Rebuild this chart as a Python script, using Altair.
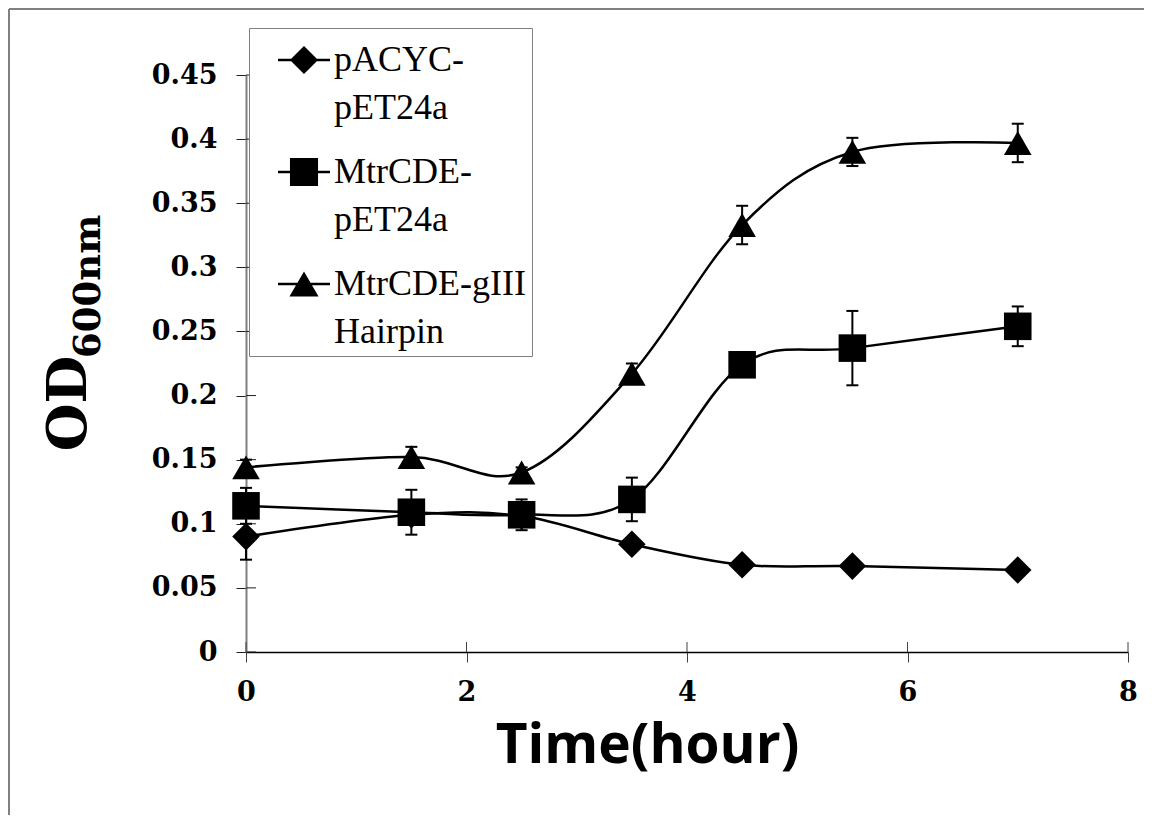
import json
import altair as alt
import pandas as pd

# ---------------- data ----------------
series_names = ["pACYC-pET24a", "MtrCDE-pET24a", "MtrCDE-gIII Hairpin"]
legend_lines = [["pACYC-", "pET24a"], ["MtrCDE-", "pET24a"], ["MtrCDE-gIII", "Hairpin"]]
time_h = [0, 1.5, 2.5, 3.5, 4.5, 5.5, 7]

od_pacyc = [0.090, 0.107, 0.106, 0.084, 0.068, 0.067, 0.064]
err_pacyc = [0.018, 0.004, 0.004, 0.004, 0.003, 0.003, 0.003]

od_mtr = [0.114, 0.109, 0.107, 0.119, 0.224, 0.237, 0.254]
err_mtr = [0.014, 0.0175, 0.012, 0.017, 0.008, 0.029, 0.0155]

od_hairpin = [0.144, 0.152, 0.140, 0.217, 0.333, 0.390, 0.397]
err_hairpin = [0.006, 0.008, 0.004, 0.008, 0.015, 0.011, 0.015]

x_ticks = [0, 2, 4, 6, 8]
y_ticks = [0, 0.05, 0.1, 0.15, 0.2, 0.25, 0.3, 0.35, 0.4, 0.45]

y_title_main = "OD"
y_title_sub = "600nm"
x_title = "Time(hour)"

# ---------------- tables ----------------
rows = []
for name, ods, errs in zip(series_names, [od_pacyc, od_mtr, od_hairpin],
                           [err_pacyc, err_mtr, err_hairpin]):
    for t, v, e in zip(time_h, ods, errs):
        rows.append({"series": name, "t": t, "od": v, "lo": v - e, "hi": v + e})
df = pd.DataFrame(rows)

W, H = 882, 577
x_scale = alt.Scale(domain=[0, 8], nice=False, zero=False)
y_scale = alt.Scale(domain=[0, 0.45], nice=False)

x_axis = alt.Axis(
    values=x_ticks, format="~g", title=x_title, grid=False,
    titleFont="Open Sans", titleFontWeight="bold", titleFontSize=55, titleColor="black",
    titleX=401, titleY=110, titleAlign="center", titleBaseline="alphabetic",
    labelFont="DejaVu Serif", labelFontWeight="bold", labelFontSize=27, labelColor="black",
    labelPadding=17, labelFlush=False, labelOverlap=False,
    tickSize=10, tickColor="#404040", tickWidth=1,
    domainColor="black", domainWidth=1.5,
)
y_axis = alt.Axis(
    values=y_ticks, format="~g", title=y_title_main, grid=False,
    titleFont="DejaVu Serif", titleFontWeight="bold", titleFontSize=55, titleColor="black",
    titleAngle=270, titleX=-161, titleY=328, titleAlign="center", titleBaseline="alphabetic",
    labelFont="DejaVu Serif", labelFontWeight="bold", labelFontSize=27, labelColor="black",
    labelPadding=19, labelOverlap=False,
    tickSize=10, tickColor="#202020", tickWidth=1,
    domainColor="#808080", domainWidth=2,
)

std_shapes = ["diamond", "square", "triangle-up"]
# legend symbols: a thin bar (the line) with the marker on it
legend_paths = [
    "M-1,-0.045H1V0.045H-1ZM-0.54,0L0,-0.54L0.54,0L0,0.54Z",
    "M-1,-0.045H1V0.045H-1ZM-0.54,-0.54H0.54V0.54H-0.54Z",
    "M-1,-0.045H1V0.045H-1ZM0,-0.48L0.56,0.48L-0.56,0.48Z",
]

base = alt.Chart(df)

lines = base.mark_line(interpolate="cardinal", tension=0, color="black", strokeWidth=2.5).encode(
    x=alt.X("t:Q", scale=x_scale, axis=x_axis),
    y=alt.Y("od:Q", scale=y_scale, axis=y_axis),
    detail="series:N",
    order="t:Q",
)

err_rule = base.mark_rule(color="black", strokeWidth=2).encode(
    x=alt.X("t:Q", scale=x_scale),
    y=alt.Y("lo:Q", scale=y_scale),
    y2="hi:Q",
)
cap_hi = base.mark_tick(orient="horizontal", size=12, thickness=2, color="black", opacity=1).encode(
    x=alt.X("t:Q", scale=x_scale),
    y=alt.Y("hi:Q", scale=y_scale),
)
cap_lo = base.mark_tick(orient="horizontal", size=12, thickness=2, color="black", opacity=1).encode(
    x=alt.X("t:Q", scale=x_scale),
    y=alt.Y("lo:Q", scale=y_scale),
)

markers = base.mark_point(filled=True, opacity=1, size=760, color="black").encode(
    x=alt.X("t:Q", scale=x_scale),
    y=alt.Y("od:Q", scale=y_scale),
    shape=alt.Shape("series:N", scale=alt.Scale(domain=series_names, range=std_shapes), legend=None),
)

label_expr = "{}[indexof({}, datum.label)]".format(json.dumps(legend_lines), json.dumps(series_names))

legend_layer = base.transform_filter("false").mark_point(
    filled=True, opacity=1, size=2704, color="black"
).encode(
    x=alt.X("t:Q", scale=x_scale),
    y=alt.Y("od:Q", scale=y_scale),
    shape=alt.Shape(
        "series:N",
        scale=alt.Scale(domain=series_names, range=legend_paths),
        legend=alt.Legend(
            title=None, orient="none", legendX=3, legendY=-47, direction="vertical",
            labelFont="Liberation Serif", labelFontSize=36, labelColor="black",
            labelLimit=600, labelOffset=4, labelExpr=label_expr, labelBaseline="middle",
            padding=6, symbolOffset=23, rowPadding=20,
            strokeColor="#808080", fillColor="white",
            symbolSize=2704, symbolStrokeWidth=0, symbolFillColor="black",
        ),
    ),
)

# cross ticks: inner halves of the axis ticks
y_inner = alt.Chart(pd.DataFrame({"v": y_ticks})).mark_rule(color="#202020", strokeWidth=1).encode(
    y=alt.Y("v:Q", scale=y_scale), x=alt.value(0), x2=alt.value(10)
)
x_inner = alt.Chart(pd.DataFrame({"v": x_ticks})).mark_rule(color="#404040", strokeWidth=1).encode(
    x=alt.X("v:Q", scale=x_scale), y=alt.value(H - 10), y2=alt.value(H)
)

sub_text = alt.Chart(pd.DataFrame({"s": [y_title_sub]})).mark_text(
    font="DejaVu Serif", fontWeight="bold", fontSize=37, angle=270, align="left",
    baseline="alphabetic", color="black"
).encode(text="s:N", x=alt.value(-146), y=alt.value(283))

frame_left = alt.Chart(pd.DataFrame({"a": [0]})).mark_rule(color="#808080", strokeWidth=2).encode(
    x=alt.value(-237), y=alt.value(-66), y2=alt.value(H + 163)
)
frame_top = alt.Chart(pd.DataFrame({"a": [0]})).mark_rule(color="#808080", strokeWidth=2).encode(
    x=alt.value(-237), x2=alt.value(W + 16), y=alt.value(-66)
)

chart = alt.layer(
    lines, frame_left, frame_top, y_inner, x_inner, err_rule, cap_hi, cap_lo, markers,
    legend_layer, sub_text,
).resolve_scale(shape="independent").properties(
    width=W, height=H,
    autosize=alt.AutoSizeParams(type="none"),
    padding={"left": 238, "top": 67, "right": 16, "bottom": 163},
    background="white",
).configure(
    view=alt.ViewConfig(strokeWidth=0),
    style={"guide-label": {"lineHeight": 48}},
)

chart.save("out.html", embed_options={"renderer": "svg", "actions": False})
